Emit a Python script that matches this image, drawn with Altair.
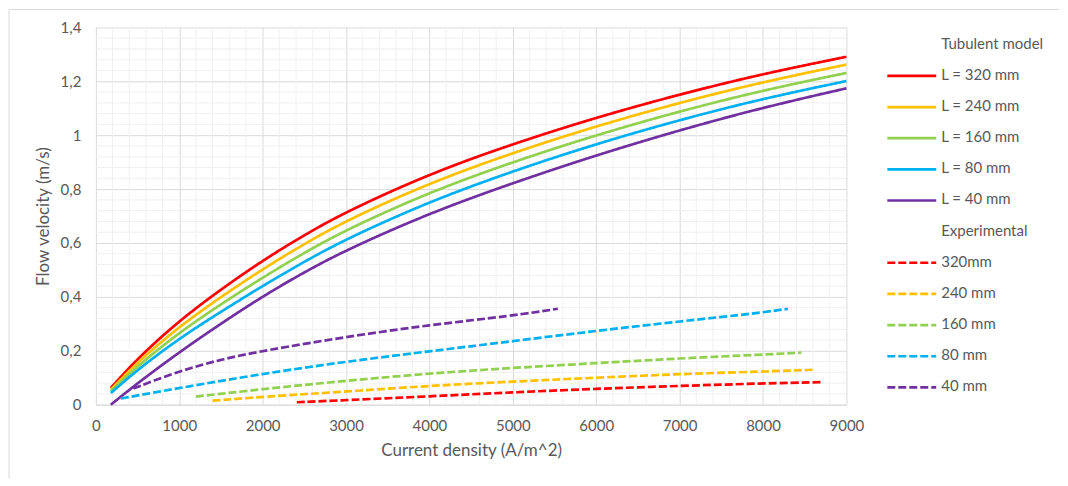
import altair as alt
import pandas as pd

# ---------------- data ----------------
MODEL_X = [180, 500, 1000, 1500, 2000, 2500, 3000, 4000, 5000, 6000, 7000, 8000, 9000]
MODEL_320 = [0.062, 0.172, 0.312, 0.428, 0.535, 0.630, 0.716, 0.857, 0.968, 1.066, 1.152, 1.228, 1.291]
MODEL_240 = [0.056, 0.158, 0.290, 0.400, 0.503, 0.597, 0.683, 0.823, 0.935, 1.034, 1.121, 1.198, 1.262]
MODEL_160 = [0.050, 0.144, 0.268, 0.373, 0.472, 0.564, 0.649, 0.789, 0.901, 1.001, 1.089, 1.167, 1.231]
MODEL_80 = [0.043, 0.130, 0.246, 0.345, 0.441, 0.531, 0.615, 0.754, 0.867, 0.968, 1.057, 1.136, 1.201]
MODEL_40 = [0.000, 0.080, 0.195, 0.301, 0.402, 0.492, 0.574, 0.711, 0.823, 0.926, 1.019, 1.103, 1.174]

EXP_320_X = [2410, 3000, 4000, 5000, 6000, 7000, 8000, 8720]
EXP_320_Y = [0.009, 0.017, 0.031, 0.046, 0.059, 0.070, 0.079, 0.084]
EXP_240_X = [1400, 2000, 3000, 4000, 5000, 6000, 7000, 8000, 8630]
EXP_240_Y = [0.015, 0.029, 0.049, 0.070, 0.086, 0.100, 0.114, 0.123, 0.130]
EXP_160_X = [1200, 2000, 3000, 4000, 5000, 6000, 7000, 8000, 8460]
EXP_160_Y = [0.030, 0.058, 0.089, 0.116, 0.137, 0.154, 0.172, 0.186, 0.193]
EXP_80_X = [300, 1000, 2000, 3000, 4000, 5000, 6000, 7000, 8000, 8300]
EXP_80_Y = [0.023, 0.062, 0.115, 0.160, 0.198, 0.236, 0.274, 0.309, 0.342, 0.356]
EXP_40_X = [450, 1000, 1500, 2000, 3000, 4000, 5000, 5540]
EXP_40_Y = [0.060, 0.125, 0.168, 0.200, 0.252, 0.296, 0.330, 0.356]

MODEL_NAMES = ["L = 320 mm", "L = 240 mm", "L = 160 mm", "L = 80 mm", "L = 40 mm"]
EXP_NAMES = ["320mm", "240 mm", "160 mm", "80 mm", "40 mm"]
HEADERS = ["Tubulent model", "Experimental"]
COLORS = ["#FF0000", "#FFC000", "#92D050", "#00B0F0", "#7030A0"]

X_TICKS = [0, 1000, 2000, 3000, 4000, 5000, 6000, 7000, 8000, 9000]
Y_TICKS = [0, 0.2, 0.4, 0.6, 0.8, 1.0, 1.2, 1.4]
X_MINOR = [v for v in range(200, 9000, 200) if v % 1000 != 0]
Y_MINOR = [round(v * 0.04, 2) for v in range(1, 35) if v % 5 != 0]

# ---------------- tables ----------------
model_rows = []
for name, ys in zip(MODEL_NAMES, [MODEL_320, MODEL_240, MODEL_160, MODEL_80, MODEL_40]):
    for x, y in zip(MODEL_X, ys):
        model_rows.append({"x": x, "y": y, "series": name})
model_df = pd.DataFrame(model_rows)

exp_rows = []
for name, xs, ys in zip(EXP_NAMES, [EXP_320_X, EXP_240_X, EXP_160_X, EXP_80_X, EXP_40_X],
                        [EXP_320_Y, EXP_240_Y, EXP_160_Y, EXP_80_Y, EXP_40_Y]):
    for x, y in zip(xs, ys):
        exp_rows.append({"x": x, "y": y, "series": name})
exp_df = pd.DataFrame(exp_rows)

ALL_NAMES = MODEL_NAMES + EXP_NAMES
ALL_COLORS = COLORS + COLORS
ALL_DASH = [[1, 0]] * 5 + [[8, 3]] * 5

FONT = "Lato"
TXT = "#595959"
GRID = "#d9d9d9"
MINOR = "#f0f0f0"

xscale = alt.Scale(domain=[0, 9000], nice=False, zero=False)
yscale = alt.Scale(domain=[0, 1.4], nice=False)
cscale = alt.Scale(domain=ALL_NAMES, range=ALL_COLORS)
dscale = alt.Scale(domain=ALL_NAMES, range=ALL_DASH)

x_axis = alt.Axis(values=X_TICKS, format="d", title="Current density (A/m^2)",
                  grid=True, gridColor=GRID, ticks=False, domainColor=GRID,
                  labelFont=FONT, labelFontSize=15, labelColor=TXT, labelPadding=14,
                  titleFont=FONT, titleFontSize=17, titleColor=TXT, titleFontWeight="normal",
                  titlePadding=9, labelFlush=False)
y_axis = alt.Axis(values=Y_TICKS, labelExpr="replace(format(datum.value, '.1~f'), '.', ',')",
                  title="Flow velocity (m/s)", grid=True, gridColor=GRID, ticks=False,
                  domain=False, labelFont=FONT, labelFontSize=15, labelColor=TXT,
                  labelPadding=15, titleFont=FONT, titleFontSize=17, titleColor=TXT,
                  titleFontWeight="normal", titlePadding=8, labelFlush=False)

X_ENC = alt.X("x:Q", scale=xscale, axis=x_axis)
Y_ENC = alt.Y("y:Q", scale=yscale, axis=y_axis)

minor_x = alt.Chart(pd.DataFrame({"x": X_MINOR})).mark_rule(color=MINOR, strokeWidth=1).encode(
    x=X_ENC)
minor_y = alt.Chart(pd.DataFrame({"y": Y_MINOR})).mark_rule(color=MINOR, strokeWidth=1).encode(
    y=Y_ENC)

model_lines = alt.Chart(model_df).mark_line(strokeWidth=2.7, interpolate="basis").encode(
    x=X_ENC, y=Y_ENC,
    color=alt.Color("series:N", scale=cscale, legend=None),
    strokeDash=alt.StrokeDash("series:N", scale=dscale, legend=None),
)
exp_lines = alt.Chart(exp_df).mark_line(strokeWidth=2.7, interpolate="basis").encode(
    x=X_ENC, y=Y_ENC,
    color=alt.Color("series:N", scale=cscale, legend=None),
    strokeDash=alt.StrokeDash("series:N", scale=dscale, legend=None),
)

one = pd.DataFrame({"a": [0]})
frame_top = alt.Chart(one).mark_rule(color="#d9d9d9", strokeWidth=1).encode(
    x=alt.value(-87), x2=alt.value(965), y=alt.value(-18))
frame_left = alt.Chart(one).mark_rule(color="#d9d9d9", strokeWidth=1).encode(
    x=alt.value(-87), y=alt.value(-18), y2=alt.value(452))

main = alt.layer(minor_x, minor_y, model_lines, exp_lines, frame_top, frame_left).properties(
    width=752, height=378)

# ---------------- legend panel ----------------
LEGEND_ORDER = [HEADERS[0]] + MODEL_NAMES + [HEADERS[1]] + EXP_NAMES
legend_df = pd.DataFrame({"label": LEGEND_ORDER})
sym_df = pd.DataFrame({"label": ALL_NAMES})
lyscale = alt.Scale(type="point", domain=LEGEND_ORDER, padding=0.556)

leg_sym = alt.Chart(sym_df).mark_rule(strokeWidth=2.7).encode(
    y=alt.Y("label:N", scale=lyscale, axis=None),
    x=alt.value(0), x2=alt.value(49),
    color=alt.Color("label:N", scale=cscale, legend=None),
    strokeDash=alt.StrokeDash("label:N", scale=dscale, legend=None),
)
leg_txt = alt.Chart(legend_df).mark_text(align="left", baseline="middle", font=FONT,
                                         fontSize=15, color=TXT, dy=-1).encode(
    y=alt.Y("label:N", scale=lyscale, axis=None),
    x=alt.value(54),
    text="label:N",
)
legend = alt.layer(leg_sym, leg_txt).properties(width=165, height=378)

chart = alt.hconcat(main, legend, spacing=41, bounds="flush").properties(
    padding={"left": 0, "top": 0, "right": 0, "bottom": 0},
    background="white",
).configure_view(stroke="transparent", strokeWidth=0)

chart.save("out.html", embed_options={"renderer": "svg", "actions": False})
